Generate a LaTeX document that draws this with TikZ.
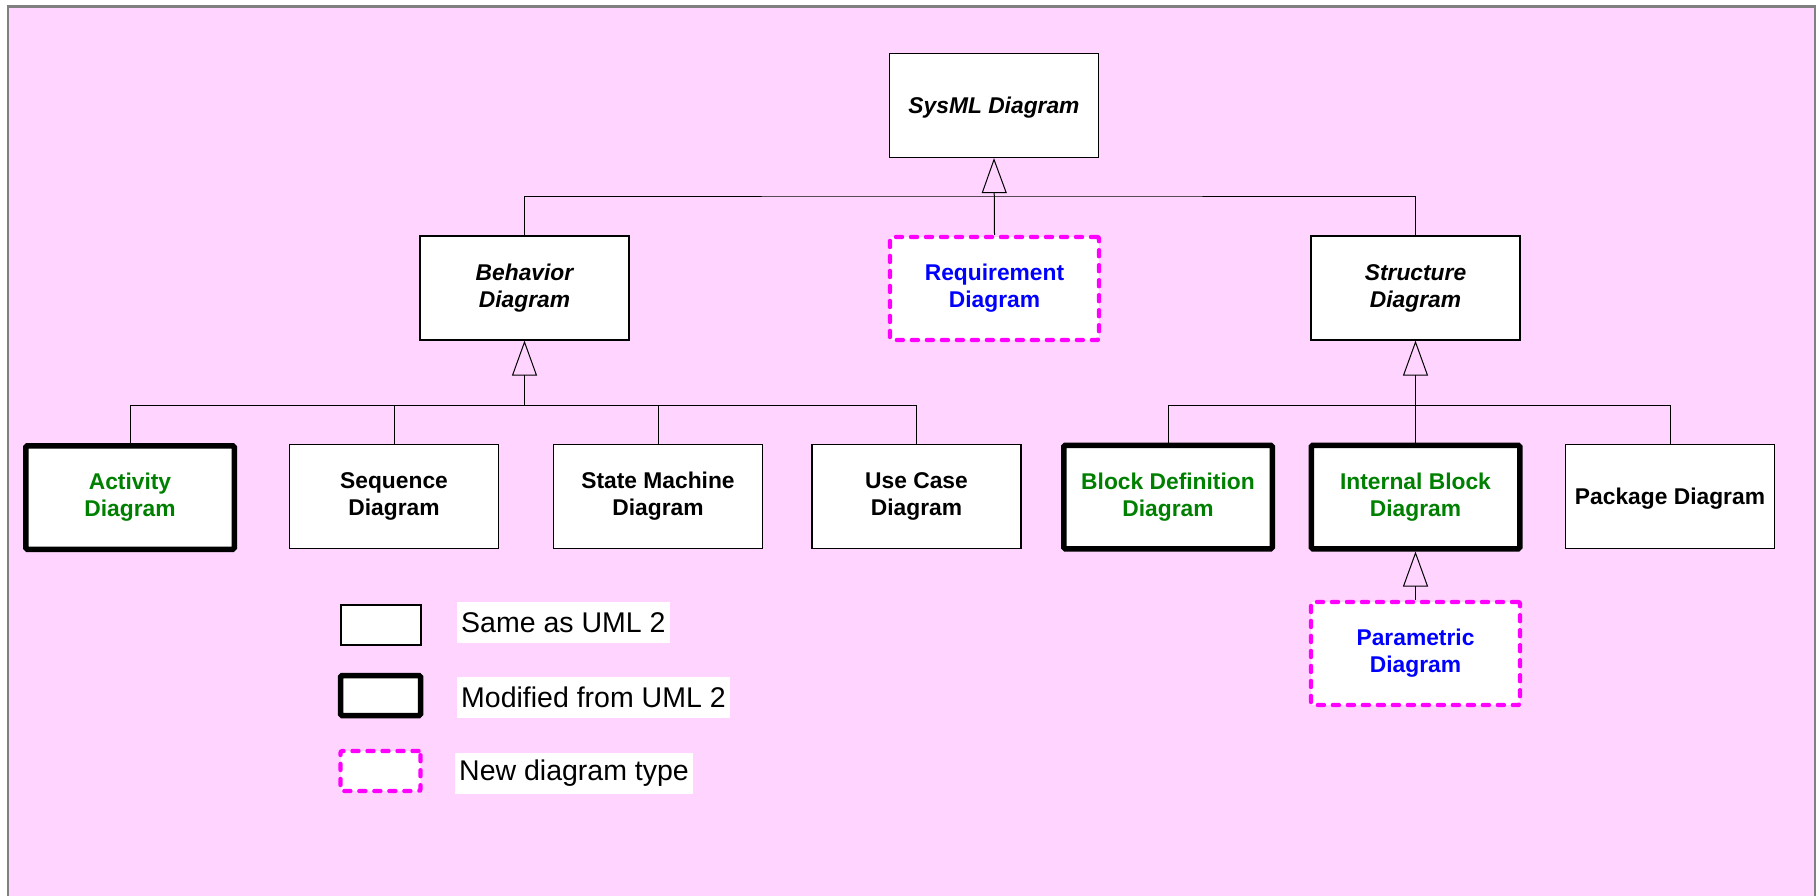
\documentclass[tikz,border=0pt]{standalone}
\usepackage{fontspec}
\setmainfont{Liberation Sans}
\usetikzlibrary{arrows.meta,calc}
\definecolor{bgpink}{RGB}{255,213,255}
\definecolor{umlgreen}{RGB}{0,128,0}
\definecolor{umlblue}{RGB}{0,0,255}
\definecolor{newmag}{RGB}{255,0,255}
\definecolor{framegray}{RGB}{128,128,128}

\begin{document}
\begin{tikzpicture}[x=1pt,y=-1pt,
  diag/.style={draw=black, line width=1.2pt, fill=white,
    minimum width=209pt, minimum height=104pt, inner sep=0pt, align=center,
    font=\fontsize{22.8}{27}\selectfont\bfseries,
    execute at begin node={\rule{0pt}{21pt}}},
  abstract/.style={diag, font=\fontsize{22.8}{27}\selectfont\bfseries\itshape},
  modified/.style={diag, line width=5.5pt, rounded corners=1.5pt,
    text=umlgreen, minimum width=208.5pt, minimum height=103.5pt},
  newtype/.style={diag, draw=newmag, line width=4.4pt, dash pattern=on 6pt off 9pt,
    line cap=round, rounded corners=2pt, text=umlblue, minimum height=103pt},
  conn/.style={line width=1pt, draw=black},
  gen/.style={conn, -{Triangle[open, length=35pt, width=25pt]}},
  legbox/.style={draw=black, line width=1.2pt, fill=white,
    minimum width=80pt, minimum height=40pt, inner sep=0pt},
  legtext/.style={fill=white, inner xsep=4pt, inner ysep=0pt,
    minimum height=41pt, anchor=west, font=\fontsize{28.5}{30}\selectfont}
]
% canvas and frame
\useasboundingbox (0,0) rectangle (1816,895);
\fill[white] (0,0) rectangle (1816,895);
\fill[bgpink] (8,6.5) rectangle (1815.5,905);
\draw[framegray, line width=2.5pt] (8,905) -- (8,6.5) -- (1815.5,6.5) -- (1815.5,905);

% hierarchy
\node[abstract] (sysml) at (994,105.5) {SysML Diagram};
\node[abstract] (behavior) at (524.5,288) {Behavior\\Diagram};
\node[newtype] (req) at (994.5,288.5) {Requirement\\Diagram};
\node[abstract] (structure) at (1415.5,288) {Structure\\Diagram};

\node[modified] (activity) at (130,497.5) {Activity\\Diagram};
\node[diag] (sequence) at (394,496.5) {Sequence\\Diagram};
\node[diag] (state) at (658,496.5) {State Machine\\Diagram};
\node[diag] (usecase) at (916.5,496.5) {Use Case\\Diagram};
\node[modified] (bdd) at (1168,497) {Block Definition\\Diagram};
\node[modified] (ibd) at (1415.5,497) {Internal Block\\Diagram};
\node[diag] (package) at (1670,496.5) {Package Diagram};
\node[newtype] (param) at (1415.5,653.5) {Parametric\\Diagram};

% generalization connectors
\coordinate (topbus) at (994,196);
\draw[gen] (req.north) -- (sysml.south);
\draw[conn] (behavior.north) |- (topbus) -| (structure.north);

\path (behavior.south) ++(0,65) coordinate (lbus);
\draw[gen] (lbus) -- (behavior.south);
\draw[conn] (activity.north) |- (lbus) -| (usecase.north);
\draw[conn] (sequence.north) -- (sequence.north |- lbus);
\draw[conn] (state.north) -- (state.north |- lbus);

\path (structure.south) ++(0,65) coordinate (rbus);
\draw[gen] (rbus) -- (structure.south);
\draw[conn] (bdd.north) |- (rbus) -| (package.north);
\draw[conn] (ibd.north) -- (ibd.north |- rbus);

\draw[gen] (param.north) -- (ibd.south);

% legend
\node[legbox] (lsame) at (381,625) {};
\node[legbox, line width=5.5pt, rounded corners=1.5pt] (lmod) at (380.5,695.5) {};
\node[legbox, draw=newmag, line width=4.4pt, dash pattern=on 6pt off 9pt,
  line cap=round, rounded corners=2pt] (lnew) at (380.5,771) {};
\node[legtext] (tsame) at (457,622.5) {Same as UML 2};
\node[legtext] (tmod) at (457,697.5) {Modified from UML 2};
\node[legtext] (tnew) at (455,773.5) {New diagram type};
\end{tikzpicture}
\end{document}
